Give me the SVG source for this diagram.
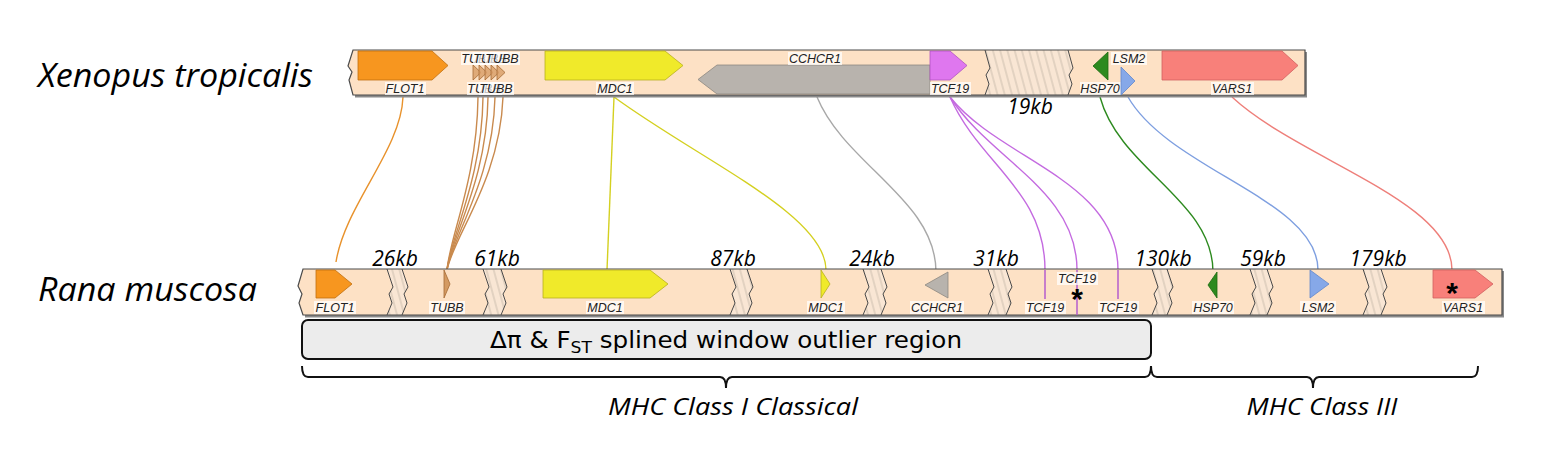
<svg xmlns="http://www.w3.org/2000/svg" width="1544" height="472" viewBox="0 0 1544 472">
<defs>
<pattern id="hatch" width="7" height="7" patternUnits="userSpaceOnUse" patternTransform="rotate(-15)">
<rect width="7" height="7" fill="#f9e6d4"/>
<line x1="1" y1="0" x2="1" y2="7" stroke="#b9aa9c" stroke-width="0.7"/>
</pattern>
<style>
.trk{fill:#fde1c5}
.out{fill:none;stroke:#4a4a4a;stroke-width:1.2}
.shadow{fill:#8a8a8a}
.hat{fill:url(#hatch)}
.jag{fill:none;stroke:#4a4a4a;stroke-width:1}
.g{stroke-width:0.8}
.lbl{font-family:"Liberation Sans",Arial,sans-serif;font-style:italic;font-size:12.5px;fill:#222;text-anchor:middle}
.lb{fill:#ffffff;fill-opacity:0.72}
.sp{font-family:"Open Sans","Liberation Sans",sans-serif;font-style:italic;fill:#000}
.kb{font-family:"Open Sans","Liberation Sans",sans-serif;font-style:italic;font-size:21px;fill:#000;text-anchor:middle}
.ast{font-family:"Liberation Sans",Arial,sans-serif;font-weight:bold;font-size:30px;fill:#000;text-anchor:middle}
.c{fill:none;stroke-width:1.4}
.brace{fill:none;stroke:#111;stroke-width:2}
</style>
</defs>

<g id="species-labels">
<text class="sp" x="38" y="87" font-size="32" textLength="275" lengthAdjust="spacingAndGlyphs">Xenopus tropicalis</text>
<text class="sp" x="38" y="301" font-size="32" textLength="219" lengthAdjust="spacingAndGlyphs">Rana muscosa</text>
</g>

<g id="connectors">
<path class="c" stroke="#e8922c" d="M403,97 C401,150 345,205 336,262"/>
<path class="c" stroke="#c98a4e" d="M478,97 C477,180 450,235 447,270"/>
<path class="c" stroke="#c98a4e" d="M483,97 C482,180 451,235 447,270"/>
<path class="c" stroke="#c98a4e" d="M488,97 C487,180 452,235 447,270"/>
<path class="c" stroke="#c98a4e" d="M495,97 C493,180 453,235 447,270"/>
<path class="c" stroke="#c98a4e" d="M503,97 C500,180 454,235 447,270"/>
<path class="c" stroke="#d4d020" d="M614,97 L607,270"/>
<path class="c" stroke="#d4d020" d="M614,97 C700,160 826,215 826,270"/>
<path class="c" stroke="#a8a8a8" d="M817,97 C845,165 936,200 936,272"/>
<path class="c" stroke="#c46be0" d="M950,97 C980,165 1045,190 1045,270"/>
<path class="c" stroke="#c46be0" d="M950,97 C990,160 1077,190 1077,270"/>
<path class="c" stroke="#c46be0" d="M950,97 C1000,160 1118,180 1118,270"/>
<path class="c" stroke="#2d8a1f" d="M1100,97 C1120,170 1213,200 1213,272"/>
<path class="c" stroke="#7e9fe0" d="M1128,97 C1170,170 1318,200 1318,270"/>
<path class="c" stroke="#ee7f7a" d="M1232,97 C1300,160 1452,200 1452,270"/>
</g>

<g id="track-xenopus">
<path class="shadow" d="M355,52 L1307,52 L1307,97.5 L355,97.5 Z"/>
<path class="trk" d="M353,50 L1305,50 L1305,95 L353,95 L349,80 L352,72 L348,66 Z"/>
<polygon class="hat" points="985,50 990,68 986,75 989,84 985,95 1068,95 1072,84 1069,75 1073,68 1068,50"/>
<path class="out" d="M353,50 L1305,50 L1305,95 L353,95 L349,80 L352,72 L348,66 Z"/>
<path class="jag" d="M985,50 L990,68 L986,75 L989,84 L985,95 M1068,50 L1073,68 L1069,75 L1072,84 L1068,95"/>
<text class="kb" x="1030" y="114">19kb</text>
</g>

<g id="x-FLOT1">
<polygon class="g" fill="#f7961f" stroke="#c07010" points="358,51 432,51 448,65.5 432,80 358,80"/>
<rect class="lb" x="385" y="82" width="41" height="13"/><text class="lbl" x="405" y="92.5">FLOT1</text>
</g>
<g id="x-TUBB">
<polygon class="g" fill="#d9a06a" fill-opacity="0.85" stroke="#a56a35" points="473,65 481,72.5 473,80"/>
<polygon class="g" fill="#d9a06a" fill-opacity="0.85" stroke="#a56a35" points="479,65 487,72.5 479,80"/>
<polygon class="g" fill="#d9a06a" fill-opacity="0.85" stroke="#a56a35" points="485,65 493,72.5 485,80"/>
<polygon class="g" fill="#d9a06a" fill-opacity="0.85" stroke="#a56a35" points="491,65 499,72.5 491,80"/>
<polygon class="g" fill="#d9a06a" fill-opacity="0.85" stroke="#a56a35" points="497,65 505,72.5 497,80"/>
<rect class="lb" x="461" y="52" width="35" height="13"/><text class="lbl" x="478" y="62.5">TUBB</text>
<rect class="lb" x="473" y="52" width="35" height="13"/><text class="lbl" x="490" y="62.5">TUBB</text>
<rect class="lb" x="485" y="52" width="35" height="13"/><text class="lbl" x="502" y="62.5">TUBB</text>
<rect class="lb" x="467" y="82" width="35" height="13"/><text class="lbl" x="484" y="92.5">TUBB</text>
<rect class="lb" x="479" y="82" width="35" height="13"/><text class="lbl" x="496" y="92.5">TUBB</text>
</g>
<g id="x-MDC1">
<polygon class="g" fill="#f0ea2a" stroke="#b8b020" points="545,51 665,51 683,65.5 665,80 545,80"/>
<rect class="lb" x="596" y="82" width="38" height="13"/><text class="lbl" x="615" y="92.5">MDC1</text>
</g>
<g id="x-CCHCR1">
<polygon class="g" fill="#b8b3ad" stroke="#8d8880" points="698,79.5 717,65 930,65 930,94 717,94"/>
<rect class="lb" x="788" y="52" width="54" height="13"/><text class="lbl" x="815" y="62.5">CCHCR1</text>
</g>
<g id="x-TCF19">
<polygon class="g" fill="#df77ef" stroke="#b054c0" points="930,51 950,51 967,65.5 950,80 930,80"/>
<rect class="lb" x="930" y="82" width="41" height="13"/><text class="lbl" x="950" y="92.5">TCF19</text>
</g>
<g id="x-HSP70">
<polygon class="g" fill="#2d8a1f" stroke="#1d6a10" points="1093,66 1108,52 1108,80"/>
<rect class="lb" x="1080" y="82" width="42" height="13"/><text class="lbl" x="1100" y="92.5">HSP70</text>
</g>
<g id="x-LSM2">
<polygon class="g" fill="#86a8e8" stroke="#5f86cc" points="1121,67 1135,81 1121,95"/>
<rect class="lb" x="1111" y="52" width="36" height="13"/><text class="lbl" x="1129" y="62.5">LSM2</text>
</g>
<g id="x-VARS1">
<polygon class="g" fill="#f8807a" stroke="#d06060" points="1162,51 1282,51 1298,65.5 1282,80 1162,80"/>
<rect class="lb" x="1211" y="82" width="43" height="13"/><text class="lbl" x="1232" y="92.5">VARS1</text>
</g>

<g id="track-rana">
<path class="shadow" d="M305,271 L1504,271 L1504,317.5 L305,317.5 Z"/>
<path class="trk" d="M303,269 L1502,269 L1502,315 L303,315 L299,303 L302,294 L298,286 Z"/>
<polygon class="hat" points="387,269 393,287 389,294 392,303 387,315 402,315 407,303 404,294 408,287 402,269"/>
<polygon class="hat" points="483,269 489,287 485,294 488,303 483,315 501,315 506,303 503,294 507,287 501,269"/>
<polygon class="hat" points="730,269 736,287 732,294 735,303 730,315 747,315 752,303 749,294 753,287 747,269"/>
<polygon class="hat" points="863,269 869,287 865,294 868,303 863,315 881,315 886,303 883,294 887,287 881,269"/>
<polygon class="hat" points="988,269 994,287 990,294 993,303 988,315 1006,315 1011,303 1008,294 1012,287 1006,269"/>
<polygon class="hat" points="1152,269 1158,287 1154,294 1157,303 1152,315 1167,315 1172,303 1169,294 1173,287 1167,269"/>
<polygon class="hat" points="1250,269 1256,287 1252,294 1255,303 1250,315 1267,315 1272,303 1269,294 1273,287 1267,269"/>
<polygon class="hat" points="1363,269 1369,287 1365,294 1368,303 1363,315 1381,315 1386,303 1383,294 1387,287 1381,269"/>
<path class="out" d="M303,269 L1502,269 L1502,315 L303,315 L299,303 L302,294 L298,286 Z"/>
<path class="jag" d="M387,269 L393,287 L389,294 L392,303 L387,315 M402,269 L408,287 L404,294 L407,303 L402,315 M483,269 L489,287 L485,294 L488,303 L483,315 M501,269 L507,287 L503,294 L506,303 L501,315 M730,269 L736,287 L732,294 L735,303 L730,315 M747,269 L753,287 L749,294 L752,303 L747,315 M863,269 L869,287 L865,294 L868,303 L863,315 M881,269 L887,287 L883,294 L886,303 L881,315 M988,269 L994,287 L990,294 L993,303 L988,315 M1006,269 L1012,287 L1008,294 L1011,303 L1006,315 M1152,269 L1158,287 L1154,294 L1157,303 L1152,315 M1167,269 L1173,287 L1169,294 L1172,303 L1167,315 M1250,269 L1256,287 L1252,294 L1255,303 L1250,315 M1267,269 L1273,287 L1269,294 L1272,303 L1267,315 M1363,269 L1369,287 L1365,294 L1368,303 L1363,315 M1381,269 L1387,287 L1383,294 L1386,303 L1381,315"/>
<text class="kb" x="395" y="266">26kb</text>
<text class="kb" x="497" y="266">61kb</text>
<text class="kb" x="733" y="266">87kb</text>
<text class="kb" x="872" y="266">24kb</text>
<text class="kb" x="996" y="266">31kb</text>
<text class="kb" x="1163" y="266">130kb</text>
<text class="kb" x="1263" y="266">59kb</text>
<text class="kb" x="1378" y="266">179kb</text>
</g>

<g id="r-FLOT1">
<polygon class="g" fill="#f7961f" stroke="#c07010" points="316,270 335,270 352,284 335,298 316,298"/>
<rect class="lb" x="314" y="301" width="42" height="13"/><text class="lbl" x="335" y="311.5">FLOT1</text>
</g>
<g id="r-TUBB">
<polygon class="g" fill="#d49a62" stroke="#a56a35" points="444,270 450,284 444,298"/>
<rect class="lb" x="429" y="301" width="36" height="13"/><text class="lbl" x="447" y="311.5">TUBB</text>
</g>
<g id="r-MDC1a">
<polygon class="g" fill="#f0ea2a" stroke="#b8b020" points="543,270 650,270 668,284 650,298 543,298"/>
<rect class="lb" x="586" y="301" width="38" height="13"/><text class="lbl" x="605" y="311.5">MDC1</text>
</g>
<g id="r-MDC1b">
<polygon class="g" fill="#f0ea2a" stroke="#b8b020" points="821,270 830,284 821,298"/>
<rect class="lb" x="807" y="301" width="38" height="13"/><text class="lbl" x="826" y="311.5">MDC1</text>
</g>
<g id="r-CCHCR1">
<polygon class="g" fill="#b8b3ad" stroke="#8d8880" points="925,285 948,272 948,298"/>
<rect class="lb" x="910" y="301" width="54" height="13"/><text class="lbl" x="937" y="311.5">CCHCR1</text>
</g>
<g id="r-TCF19a">
<line x1="1045" y1="270" x2="1045" y2="299" stroke="#b45ccc" stroke-width="1.5"/>
<rect class="lb" x="1025" y="301" width="41" height="13"/><text class="lbl" x="1045" y="311.5">TCF19</text>
</g>
<g id="r-TCF19b">
<line x1="1077" y1="270" x2="1077" y2="315" stroke="#b45ccc" stroke-width="1.5"/>
<rect class="lb" x="1057" y="272" width="41" height="13"/><text class="lbl" x="1077" y="282.5">TCF19</text>
<text class="ast" x="1077" y="309">*</text>
</g>
<g id="r-TCF19c">
<line x1="1118" y1="270" x2="1118" y2="299" stroke="#b45ccc" stroke-width="1.5"/>
<rect class="lb" x="1098" y="301" width="41" height="13"/><text class="lbl" x="1118" y="311.5">TCF19</text>
</g>
<g id="r-HSP70">
<polygon class="g" fill="#2d8a1f" stroke="#1d6a10" points="1208,285 1217,272 1217,298"/>
<rect class="lb" x="1192" y="301" width="42" height="13"/><text class="lbl" x="1213" y="311.5">HSP70</text>
</g>
<g id="r-LSM2">
<polygon class="g" fill="#86a8e8" stroke="#5f86cc" points="1310,270 1329,284 1310,298"/>
<rect class="lb" x="1300" y="301" width="36" height="13"/><text class="lbl" x="1318" y="311.5">LSM2</text>
</g>
<g id="r-VARS1">
<polygon class="g" fill="#f8807a" stroke="#d06060" points="1433,270 1475,270 1493,284 1475,298 1433,298"/>
<text class="ast" x="1452" y="303">*</text>
<rect class="lb" x="1442" y="301" width="43" height="13"/><text class="lbl" x="1463" y="311.5">VARS1</text>
</g>

<g id="outlier-region">
<rect x="302" y="320" width="849" height="39" rx="6" fill="#ececec" stroke="#111" stroke-width="2"/>
<text x="726" y="348" font-family="'DejaVu Sans','Liberation Sans',sans-serif" font-size="23" fill="#000" text-anchor="middle" textLength="472" lengthAdjust="spacingAndGlyphs">Δπ &amp; F<tspan font-size="16" dy="5">ST</tspan><tspan dy="-5"> splined window outlier region</tspan></text>
</g>

<g id="braces">
<path class="brace" d="M302,366 Q302,377 308,377 L720,377 Q726,377 726,388 Q726,377 732,377 L1145,377 Q1151,377 1151,366"/>
<path class="brace" d="M1151,366 Q1151,377 1157,377 L1307,377 Q1313,377 1313,388 Q1313,377 1319,377 L1472,377 Q1478,377 1478,366"/>
<text class="sp" x="733" y="415" font-size="24" text-anchor="middle" textLength="250" lengthAdjust="spacingAndGlyphs">MHC Class I Classical</text>
<text class="sp" x="1322" y="415" font-size="24" text-anchor="middle" textLength="151" lengthAdjust="spacingAndGlyphs">MHC Class III</text>
</g>
</svg>
